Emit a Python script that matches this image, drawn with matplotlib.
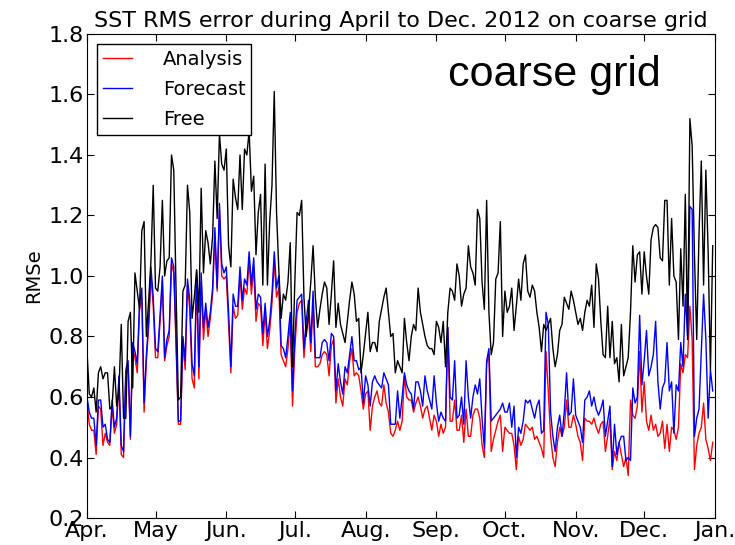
import matplotlib
matplotlib.use('Agg')
import matplotlib.pyplot as plt
import pandas as pd

# daily SST RMS error, 1 Apr 2012 .. 31 Dec 2012
analysis = [
    0.58, 0.51, 0.49, 0.49, 0.41, 0.57, 0.56, 0.44, 0.48, 0.45,
    0.44, 0.57, 0.48, 0.51, 0.65, 0.41, 0.40, 0.67, 0.70, 0.46,
    0.76, 0.73, 0.68, 0.89, 0.93, 0.55, 0.72, 0.83, 1.00, 0.90,
    0.73, 0.73, 0.85, 0.98, 0.72, 0.77, 0.80, 1.04, 1.01, 0.77,
    0.51, 0.51, 0.78, 0.69, 0.97, 0.89, 0.66, 0.63, 0.99, 0.66,
    0.98, 0.79, 0.89, 0.80, 0.86, 0.94, 1.13, 0.95, 1.22, 1.00,
    0.99, 1.00, 0.84, 0.68, 0.90, 0.86, 0.87, 1.00, 0.89, 0.96,
    0.94, 1.05, 0.94, 1.03, 0.85, 0.91, 0.90, 0.77, 0.88, 0.76,
    0.82, 0.91, 1.05, 0.93, 0.96, 0.74, 0.72, 0.70, 0.76, 0.85,
    0.57, 0.76, 0.88, 0.91, 0.92, 0.73, 0.82, 0.87, 0.75, 0.91,
    0.70, 0.70, 0.71, 0.74, 0.75, 0.74, 0.67, 0.77, 0.79, 0.58,
    0.66, 0.60, 0.57, 0.66, 0.64, 0.72, 0.76, 0.67, 0.68, 0.67,
    0.62, 0.56, 0.61, 0.62, 0.49, 0.57, 0.60, 0.62, 0.58, 0.57,
    0.64, 0.58, 0.55, 0.48, 0.47, 0.49, 0.52, 0.49, 0.52, 0.67,
    0.60, 0.59, 0.59, 0.55, 0.58, 0.60, 0.57, 0.53, 0.56, 0.57,
    0.53, 0.49, 0.54, 0.52, 0.47, 0.51, 0.48, 0.50, 0.83, 0.52,
    0.52, 0.59, 0.49, 0.49, 0.54, 0.45, 0.56, 0.47, 0.47, 0.54,
    0.56, 0.56, 0.53, 0.44, 0.40, 0.71, 0.74, 0.42, 0.46, 0.49,
    0.52, 0.54, 0.42, 0.50, 0.49, 0.48, 0.48, 0.44, 0.36, 0.47,
    0.44, 0.46, 0.51, 0.50, 0.49, 0.50, 0.46, 0.47, 0.45, 0.43,
    0.40, 0.75, 0.62, 0.47, 0.40, 0.37, 0.45, 0.50, 0.47, 0.50,
    0.59, 0.50, 0.50, 0.54, 0.51, 0.47, 0.45, 0.39, 0.53, 0.52,
    0.52, 0.51, 0.53, 0.50, 0.48, 0.51, 0.52, 0.42, 0.47, 0.53,
    0.36, 0.42, 0.39, 0.45, 0.41, 0.37, 0.40, 0.34, 0.59, 0.54,
    0.53, 0.57, 0.75, 0.55, 0.65, 0.52, 0.49, 0.54, 0.49, 0.51,
    0.47, 0.48, 0.52, 0.43, 0.51, 0.42, 0.50, 0.49, 0.46, 0.50,
    0.71, 0.68, 0.74, 0.73, 0.90, 0.79, 0.36, 0.44, 0.48, 0.50,
    0.58, 0.46, 0.43, 0.39, 0.45,
]

forecast = [
    0.60, 0.55, 0.53, 0.53, 0.44, 0.59, 0.59, 0.50, 0.51, 0.46,
    0.45, 0.59, 0.50, 0.53, 0.67, 0.44, 0.42, 0.69, 0.72, 0.47,
    0.78, 0.75, 0.71, 0.91, 0.96, 0.58, 0.74, 0.85, 1.03, 0.93,
    0.76, 0.75, 0.87, 1.00, 0.73, 0.79, 0.82, 1.06, 1.03, 0.79,
    0.52, 0.52, 0.80, 0.72, 0.99, 0.92, 0.71, 0.67, 1.02, 0.70,
    1.01, 0.83, 0.91, 0.83, 0.88, 0.96, 1.16, 0.96, 1.24, 1.04,
    1.01, 1.03, 0.88, 0.70, 0.94, 0.90, 0.90, 1.03, 0.92, 0.99,
    0.97, 1.08, 0.97, 1.06, 0.89, 0.94, 0.93, 0.81, 0.91, 0.80,
    0.85, 0.94, 1.08, 0.96, 1.00, 0.77, 0.76, 0.73, 0.80, 0.88,
    0.62, 0.80, 0.92, 0.93, 0.94, 0.76, 0.85, 0.92, 0.78, 0.95,
    0.73, 0.73, 0.73, 0.78, 0.79, 0.78, 0.72, 0.81, 0.80, 0.62,
    0.71, 0.65, 0.61, 0.70, 0.68, 0.74, 0.80, 0.72, 0.72, 0.69,
    0.70, 0.58, 0.67, 0.64, 0.57, 0.65, 0.67, 0.65, 0.64, 0.63,
    0.68, 0.66, 0.64, 0.51, 0.51, 0.51, 0.62, 0.53, 0.60, 0.68,
    0.64, 0.62, 0.61, 0.56, 0.65, 0.65, 0.62, 0.57, 0.67, 0.62,
    0.59, 0.56, 0.67, 0.58, 0.52, 0.55, 0.53, 0.52, 0.83, 0.60,
    0.59, 0.72, 0.53, 0.54, 0.60, 0.51, 0.72, 0.60, 0.53, 0.60,
    0.64, 0.61, 0.66, 0.53, 0.43, 0.72, 0.76, 0.52, 0.53, 0.54,
    0.55, 0.56, 0.58, 0.55, 0.55, 0.58, 0.50, 0.57, 0.40, 0.50,
    0.48, 0.52, 0.59, 0.58, 0.59, 0.56, 0.53, 0.57, 0.59, 0.48,
    0.49, 0.88, 0.84, 0.55, 0.47, 0.42, 0.50, 0.54, 0.47, 0.55,
    0.68, 0.54, 0.55, 0.66, 0.54, 0.52, 0.50, 0.45, 0.59, 0.60,
    0.62, 0.57, 0.60, 0.56, 0.54, 0.56, 0.59, 0.47, 0.52, 0.57,
    0.37, 0.51, 0.41, 0.45, 0.47, 0.47, 0.39, 0.40, 0.39, 0.63,
    0.58, 0.60, 0.87, 0.64, 0.72, 0.82, 0.67, 0.70, 0.74, 0.85,
    0.65, 0.56, 0.63, 0.65, 0.78, 0.62, 0.65, 0.48, 0.64, 0.62,
    0.78, 0.70, 0.94, 0.80, 1.23, 1.22, 0.47, 0.53, 0.56, 0.75,
    0.94, 0.79, 0.53, 0.69, 0.62,
]

free = [
    0.75, 0.61, 0.60, 0.63, 0.55, 0.68, 0.70, 0.66, 0.68, 0.68,
    0.56, 0.57, 0.70, 0.57, 0.62, 0.84, 0.53, 0.53, 0.85, 0.88,
    0.63, 1.01, 0.95, 0.89, 1.15, 1.18, 0.80, 0.92, 1.05, 1.30,
    0.96, 0.95, 1.03, 1.25, 1.00, 1.05, 1.06, 1.40, 1.35, 0.95,
    0.59, 0.60, 0.95, 0.97, 1.30, 1.21, 0.86, 0.93, 1.02, 0.88,
    1.29, 1.01, 1.15, 1.11, 1.04, 1.13, 1.38, 1.19, 1.47, 1.37,
    1.35, 1.42, 1.10, 1.03, 1.32, 1.26, 1.22, 1.40, 1.22, 1.42,
    1.40, 1.48, 1.28, 1.33, 1.07, 1.21, 1.27, 0.97, 1.37, 0.97,
    1.18, 1.30, 1.61, 1.21, 1.02, 0.86, 0.94, 0.92, 0.98, 1.11,
    0.70, 0.98, 1.21, 1.20, 1.25, 0.93, 0.80, 0.88, 0.98, 1.10,
    0.93, 0.83, 0.89, 0.94, 0.98, 0.96, 0.84, 0.94, 1.05, 0.83,
    0.91, 0.84, 0.81, 0.78, 0.85, 0.92, 0.98, 0.94, 0.85, 0.86,
    0.68, 0.74, 0.81, 0.88, 0.75, 0.78, 0.78, 0.75, 0.85, 0.89,
    0.93, 0.96, 0.88, 0.80, 0.81, 0.68, 0.72, 0.70, 0.68, 0.86,
    0.78, 0.72, 0.80, 0.84, 0.82, 0.96, 0.88, 0.84, 0.80, 0.77,
    0.76, 0.76, 0.74, 0.85, 0.83, 0.78, 0.85, 0.70, 0.88, 0.96,
    0.95, 0.92, 1.04, 1.00, 0.90, 0.94, 0.96, 1.10, 1.03, 1.01,
    0.97, 1.22, 1.19, 0.98, 0.89, 1.25, 0.88, 0.74, 0.78, 0.99,
    1.01, 1.18, 0.80, 0.95, 0.88, 0.90, 0.96, 0.82, 0.90, 0.99,
    0.92, 1.04, 1.07, 0.95, 0.93, 0.97, 0.95, 0.88, 0.83, 0.75,
    0.84, 0.82, 0.84, 0.86, 0.76, 0.70, 0.74, 0.82, 0.84, 0.93,
    0.91, 0.89, 0.95, 0.92, 0.88, 0.84, 0.86, 0.82, 0.88, 0.92,
    0.90, 0.97, 0.83, 1.04, 0.99, 0.85, 0.74, 0.73, 0.90, 0.73,
    0.85, 0.71, 0.73, 0.65, 0.84, 0.67, 0.70, 0.73, 0.88, 1.10,
    0.98, 1.07, 1.08, 0.94, 1.08, 1.00, 0.94, 1.12, 1.16, 1.17,
    1.16, 1.06, 1.05, 1.25, 1.25, 0.97, 1.19, 1.00, 0.98, 0.79,
    1.09, 0.90, 1.27, 0.79, 1.52, 1.43, 1.07, 0.79, 1.14, 1.38,
    0.97, 1.35, 1.08, 0.69, 1.10,
]

month_labels = ['Apr.', 'May', 'Jun.', 'Jul.', 'Aug.', 'Sep.', 'Oct.', 'Nov.', 'Dec.', 'Jan.']
y_ticks = [0.2, 0.4, 0.6, 0.8, 1.0, 1.2, 1.4, 1.6, 1.8]

days = pd.date_range('2012-04-01', periods=len(free), freq='D')
month_starts = pd.date_range('2012-04-01', '2013-01-01', freq='MS')

plt.rcParams['font.family'] = ['DejaVu Sans']
plt.rcParams['xtick.direction'] = 'in'
plt.rcParams['ytick.direction'] = 'in'
plt.rcParams['xtick.top'] = True
plt.rcParams['ytick.right'] = True

fig = plt.figure(figsize=(7.35, 5.45), dpi=100)
ax = fig.add_axes([87 / 735, 27 / 545, 628 / 735, 484 / 545])

ax.plot(days, analysis, color='#ff0000', lw=1.0, label='Analysis')
ax.plot(days, forecast, color='#0000ff', lw=1.0, label='Forecast')
ax.plot(days, free, color='black', lw=1.0, label='Free')

ax.set_xlim(month_starts[0], month_starts[-1])
ax.set_ylim(0.2, 1.8)
ax.set_xticks(month_starts)
ax.set_xticklabels(month_labels)
ax.set_yticks(y_ticks)
ax.set_yticklabels(['%.1f' % v for v in y_ticks])
ax.tick_params(labelsize=16, length=5, width=0.8, pad=2)
ax.set_ylabel('RMSe', fontsize=14, labelpad=4)
ax.set_title('SST RMS error during April to Dec. 2012 on coarse grid', fontsize=16, pad=5)

leg = ax.legend(loc='upper left', fontsize=14, fancybox=False, framealpha=1,
                edgecolor='black', handlelength=1.5, handletextpad=1.6,
                labelspacing=0.58, borderpad=0.3)
leg.get_frame().set_linewidth(1.0)

ax.text(0.575, 0.893, 'coarse grid', transform=ax.transAxes, fontsize=31,
        family='Liberation Sans', va='baseline', ha='left')

fig.savefig('out.png', dpi=100)
